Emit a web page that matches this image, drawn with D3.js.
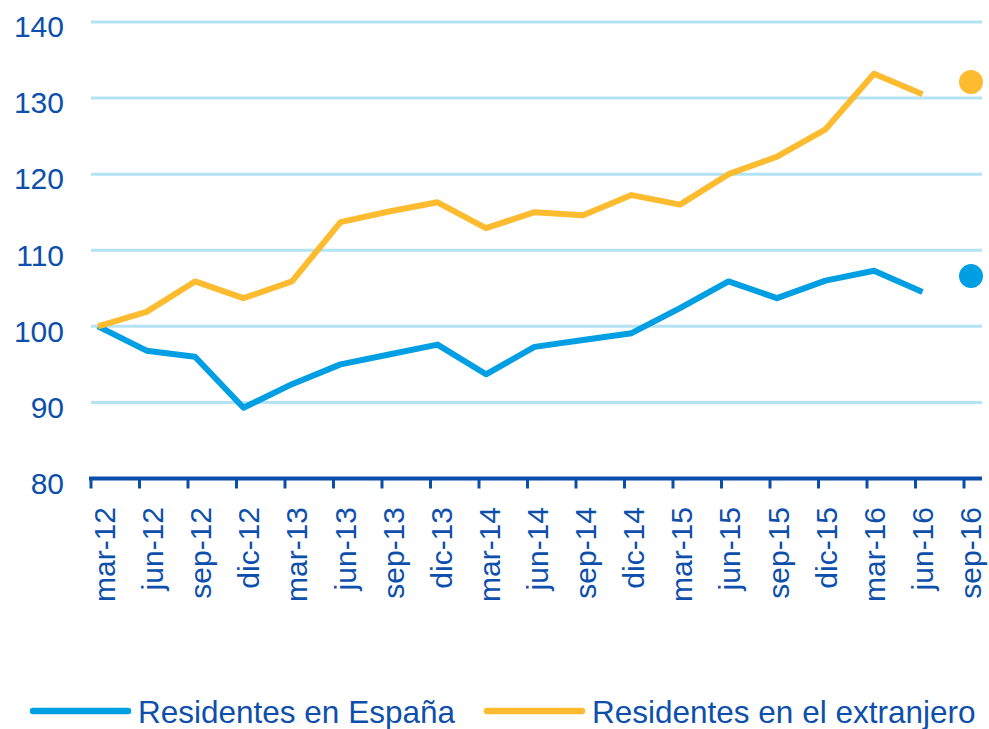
<!DOCTYPE html>
<html>
<head>
<meta charset="utf-8">
<script src="https://cdn.jsdelivr.net/npm/d3@7"></script>
<style>
  html, body { margin: 0; padding: 0; background: #fff; }
  svg { display: block; }
  text { font-family: Arial, "Liberation Sans", sans-serif; fill: #0D4FAB; }
</style>
</head>
<body>
<svg id="chart" width="989" height="729"></svg>
<script>
const categories = ["mar-12","jun-12","sep-12","dic-12","mar-13","jun-13","sep-13","dic-13",
  "mar-14","jun-14","sep-14","dic-14","mar-15","jun-15","sep-15","dic-15","mar-16","jun-16","sep-16"];
const espana = [100, 96.8, 96.0, 89.3, 92.4, 95.0, 96.3, 97.6, 93.7, 97.3, 98.2, 99.1,
  102.4, 105.9, 103.7, 106.0, 107.3, 104.5, null];
const extranjero = [100, 101.9, 105.9, 103.7, 105.9, 113.7, 115.1, 116.3, 112.9, 115.0, 114.6, 117.25,
  116.0, 120.0, 122.3, 125.9, 133.2, 130.5, null];
const espanaForecast = { cat: "sep-16", value: 106.6 };
const extranjeroForecast = { cat: "sep-16", value: 132.1 };
const yTicks = [80, 90, 100, 110, 120, 130, 140];
const seriesNames = ["Residentes en España", "Residentes en el extranjero"];
const colors = ["#009FE3", "#FDBB30"];

const svg = d3.select("#chart");
const gridLeft = 91, gridRight = 982;
const x = d3.scalePoint().domain(categories).range([98, 971]);
const xLabel = d3.scalePoint().domain(categories).range([115, 981]);
const y = d3.scaleLinear().domain([80, 140]).range([478.5, 22]);
const tickShift = -7.5;

// gridlines
svg.append("g")
  .selectAll("line")
  .data(yTicks.filter(d => d > 80))
  .join("line")
  .attr("x1", gridLeft).attr("x2", gridRight)
  .attr("y1", d => y(d)).attr("y2", d => y(d))
  .attr("stroke", "#B5E3F6").attr("stroke-width", 3);

// y labels
svg.append("g")
  .selectAll("text")
  .data(yTicks)
  .join("text")
  .attr("x", 64)
  .attr("y", d => y(d) + 4.5)
  .attr("dy", "0.36em")
  .attr("text-anchor", "end")
  .attr("font-size", 30)
  .text(d => d);

// x axis
const xAxis = d3.axisBottom(x).tickSize(10).tickSizeOuter(0).tickFormat("");
const gx = svg.append("g")
  .attr("transform", `translate(${tickShift},${y(80)})`)
  .call(xAxis);
gx.select(".domain").remove();
gx.selectAll(".tick line").attr("stroke", "#0B4EAA").attr("stroke-width", 3);
svg.append("line")
  .attr("x1", 89).attr("x2", gridRight)
  .attr("y1", y(80)).attr("y2", y(80))
  .attr("stroke", "#0B4EAA").attr("stroke-width", 4);

// x labels
svg.append("g")
  .selectAll("text")
  .data(categories)
  .join("text")
  .attr("transform", d => `translate(${xLabel(d)},507) rotate(-90)`)
  .attr("text-anchor", "end")
  .attr("font-size", 30)
  .text(d => d);

// lines
const line = d3.line()
  .defined(d => d.v !== null)
  .x(d => x(d.c))
  .y(d => y(d.v));

[espana, extranjero].forEach((vals, i) => {
  const data = categories.map((c, j) => ({ c: c, v: vals[j] }));
  svg.append("path")
    .datum(data)
    .attr("d", line)
    .attr("fill", "none")
    .attr("stroke", colors[i])
    .attr("stroke-width", 6)
    .attr("stroke-linejoin", "round")
    .attr("stroke-linecap", "butt");
});

// forecast dots
[espanaForecast, extranjeroForecast].forEach((p, i) => {
  svg.append("circle")
    .attr("cx", x(p.cat))
    .attr("cy", y(p.value))
    .attr("r", 12)
    .attr("fill", colors[i]);
});

// legend
const legendItems = [
  { name: seriesNames[0], color: colors[0], x1: 33, x2: 128, tx: 138 },
  { name: seriesNames[1], color: colors[1], x1: 487, x2: 582, tx: 592 }
];
const lg = svg.append("g");
legendItems.forEach(it => {
  lg.append("line")
    .attr("x1", it.x1).attr("x2", it.x2)
    .attr("y1", 711).attr("y2", 711)
    .attr("stroke", it.color).attr("stroke-width", 6.5)
    .attr("stroke-linecap", "round");
  lg.append("text")
    .attr("x", it.tx).attr("y", 723)
    .attr("font-size", 31.5)
    .text(it.name);
});
</script>
</body>
</html>
